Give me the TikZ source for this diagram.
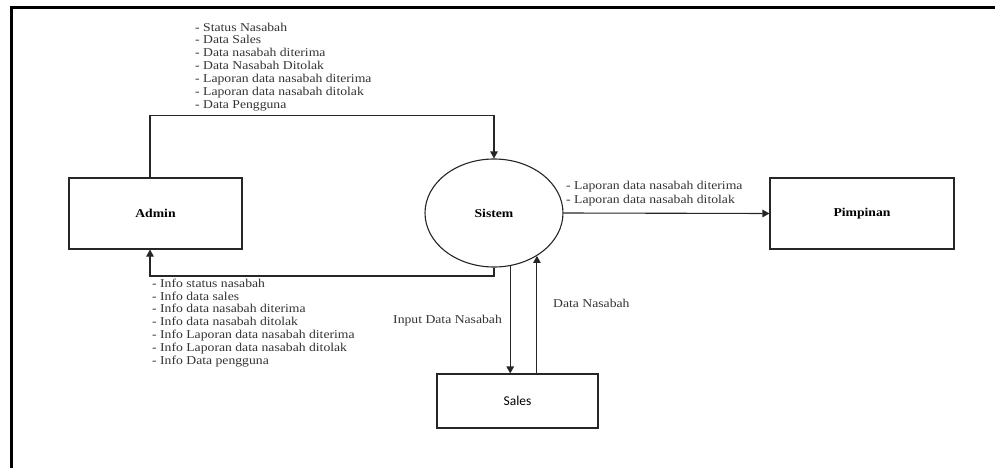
\documentclass[tikz,border=0pt]{standalone}
\usepackage{fontspec}
\setmainfont{Liberation Serif}[FakeStretch=1.14]
\newfontfamily\salesfont{Carlito}
\usetikzlibrary{arrows.meta,shapes.geometric}
\tikzset{
  box/.style={draw=black!85, line width=1.1pt, rectangle, inner sep=0pt, font=\fontsize{12}{13}\selectfont\bfseries},
  proc/.style={draw=black!85, line width=1.1pt, ellipse, inner sep=0pt, minimum width=138pt, minimum height=108pt, font=\fontsize{12}{13}\selectfont\bfseries},
  flow/.style={draw=black!85, line width=1.1pt, -{Triangle[length=7pt,width=7.5pt]}},
  lbl/.style={inner sep=0pt, align=left, font=\fontsize{12}{12.85}\selectfont, text=black!80},
}
\begin{document}
\begin{tikzpicture}[x=1pt,y=-1pt]
\useasboundingbox (0,0) rectangle (995,468);
\draw[line width=3pt] (11.5,468) -- (11.5,8) -- (995,8);

\node[box, minimum width=173pt, minimum height=71pt] (admin) at (155.5,213.5) {Admin};
\node[proc] (sistem) at (494,213) {Sistem};
\node[box, minimum width=184pt, minimum height=71pt] (pimpinan) at (862,213.5) {Pimpinan};
\node[box, minimum width=161pt, minimum height=54pt, font=\salesfont\fontsize{13.5}{14}\selectfont] (sales) at (517.5,401) {Sales};

\coordinate (ax) at (150,0);
\coordinate (ty) at (0,115.5);
\coordinate (by) at (0,276);

% Admin -> Sistem
\draw[flow] (admin.north -| ax) -- (ax |- ty) -| (sistem.north);
% Sistem -> Admin
\draw[flow] (sistem.south) -- (sistem.south |- by) -- (ax |- by) -- (admin.south -| ax);
% Sistem -> Pimpinan
\draw[flow] (sistem.east) -- (pimpinan.west);
% Sistem -> Sales
\draw[flow] (sistem.-73) -- (sales.north -| sistem.-73);
% Sales -> Sistem
\draw[flow] (sales.north -| sistem.-45.7) -- (sistem.-45.7);

\node[lbl, anchor=north west] (l1) at (195,22.5) {- Status Nasabah\\- Data Sales\\- Data nasabah diterima\\- Data Nasabah Ditolak\\- Laporan data nasabah diterima\\- Laporan data nasabah ditolak\\- Data Pengguna};
\node[lbl, anchor=north west] (l2) at (152,278.5) {- Info status nasabah\\- Info data sales\\- Info data nasabah diterima\\- Info data nasabah ditolak\\- Info Laporan data nasabah diterima\\- Info Laporan data nasabah ditolak\\- Info Data pengguna};
\node[lbl, anchor=north west, font=\fontsize{12}{14}\selectfont] (l3) at (566,180.5) {- Laporan data nasabah diterima\\- Laporan data nasabah ditolak};
\node[lbl, anchor=west] (l4) at (393,321) {Input Data Nasabah};
\node[lbl, anchor=west] (l5) at (553,303) {Data Nasabah};
\end{tikzpicture}
\end{document}
